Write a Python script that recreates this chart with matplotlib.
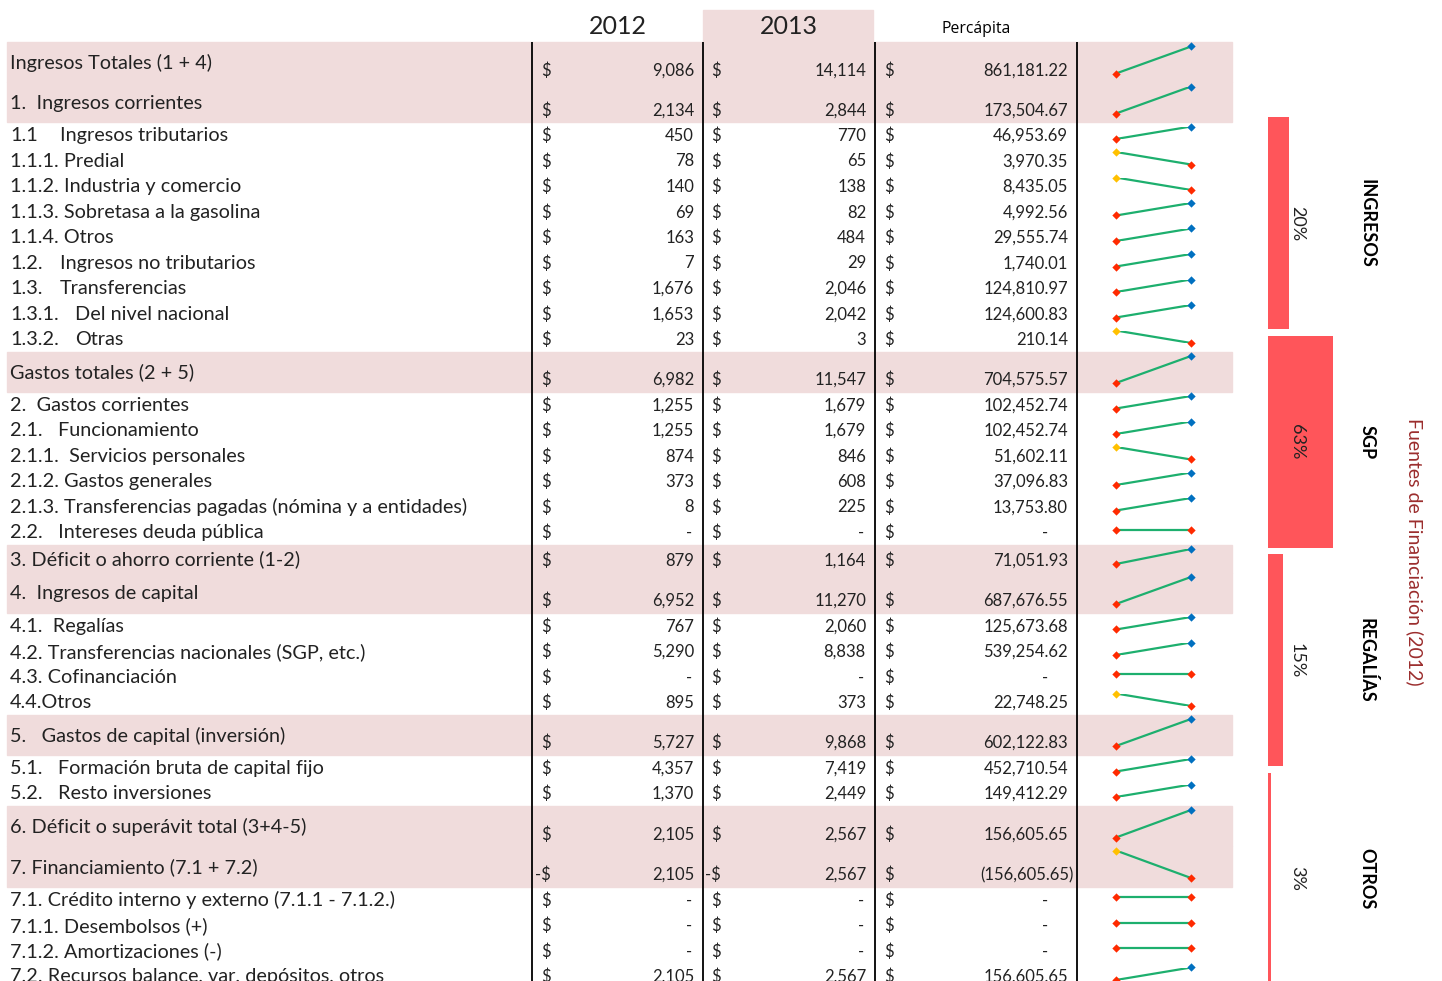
import matplotlib
matplotlib.use("Agg")
import matplotlib.pyplot as plt
from matplotlib.patches import Rectangle

plt.rcParams['font.family'] = ['Lato', 'DejaVu Sans']

W, H = 1442, 981

# table rows ("\t" marks a wide gap after the item number)
labels = [
    "Ingresos Totales (1 + 4)",
    "1.  Ingresos corrientes",
    "1.1\tIngresos tributarios",
    "1.1.1. Predial",
    "1.1.2. Industria y comercio",
    "1.1.3. Sobretasa a la gasolina",
    "1.1.4. Otros",
    "1.2.\tIngresos no tributarios",
    "1.3.\tTransferencias",
    "1.3.1.\tDel nivel nacional",
    "1.3.2.\tOtras",
    "Gastos totales (2 + 5)",
    "2.  Gastos corrientes",
    "2.1.   Funcionamiento",
    "2.1.1.  Servicios personales",
    "2.1.2. Gastos generales",
    "2.1.3. Transferencias pagadas (nómina y a entidades)",
    "2.2.   Intereses deuda pública",
    "3. Déficit o ahorro corriente (1-2)",
    "4.  Ingresos de capital",
    "4.1.  Regalías",
    "4.2. Transferencias nacionales (SGP, etc.)",
    "4.3. Cofinanciación",
    "4.4.Otros",
    "5.   Gastos de capital (inversión)",
    "5.1.   Formación bruta de capital fijo",
    "5.2.   Resto inversiones",
    "6. Déficit o superávit total (3+4-5)",
    "7. Financiamiento (7.1 + 7.2)",
    "7.1. Crédito interno y externo (7.1.1 - 7.1.2.)",
    "7.1.1. Desembolsos (+)",
    "7.1.2. Amortizaciones (-)",
    "7.2. Recursos balance, var. depósitos, otros",
]
v2012 = [9086, 2134, 450, 78, 140, 69, 163, 7, 1676, 1653, 23,
         6982, 1255, 1255, 874, 373, 8, 0, 879, 6952, 767, 5290, 0, 895,
         5727, 4357, 1370, 2105, -2105, 0, 0, 0, 2105]
v2013 = [14114, 2844, 770, 65, 138, 82, 484, 29, 2046, 2042, 3,
         11547, 1679, 1679, 846, 608, 225, 0, 1164, 11270, 2060, 8838, 0, 373,
         9868, 7419, 2449, 2567, -2567, 0, 0, 0, 2567]
percapita = [861181.22, 173504.67, 46953.69, 3970.35, 8435.05, 4992.56, 29555.74,
             1740.01, 124810.97, 124600.83, 210.14,
             704575.57, 102452.74, 102452.74, 51602.11, 37096.83, 13753.80, 0,
             71051.93, 687676.55, 125673.68, 539254.62, 0, 22748.25,
             602122.83, 452710.54, 149412.29, 156605.65, -156605.65, 0, 0, 0, 156605.65]

# funding sources share (2012)
fuentes = ["INGRESOS", "SGP", "REGALÍAS", "OTROS"]
fuentes_pct = [20, 63, 15, 3]

# layout
shaded = {0, 1, 11, 18, 19, 24, 27, 28}
row_h = [40, 40] + [25.5] * 9 + [40] + [25.5] * 6 + [28, 40] + [25.5] * 4 + [40] + [25.5] * 2 \
        + [40.5, 40.5] + [25.5] * 4
BAND = '#F0DCDC'
TOP = 42
COL_LINES = [532, 703, 875, 1077]
FS_LAB = 14.3
FS = 12

fig = plt.figure(figsize=(W / 100, H / 100), dpi=100)
ax = fig.add_axes([0, 0, 1, 1])
ax.set_xlim(0, W)
ax.set_ylim(H, 0)
ax.axis('off')

# headers
ax.add_patch(Rectangle((703, 10), 170, TOP - 10, color=BAND, zorder=0))
ax.text(618, 27, "2012", fontsize=18, ha='center', va='center', color='#222222')
ax.text(789, 27, "2013", fontsize=18, ha='center', va='center', color='#222222')
ax.text(976, 29, "Percápita", fontsize=11.3, ha='center', va='center', family=['Open Sans', 'DejaVu Sans'])


def fmt_int(v):
    return "-" if v == 0 else f"{abs(v):,.0f}"


lab_kw = dict(fontsize=FS_LAB, va='center', color='#222222')
num_kw = dict(fontsize=FS, va='center', ha='right', color='#222222')

y = TOP
for i, lab in enumerate(labels):
    h = row_h[i]
    if i in shaded:
        ax.add_patch(Rectangle((7, y), 1225, h, color=BAND, zorder=0))
    yc = y + h / 2 + 1
    yn = max(yc, y + h - 11.5)

    # label
    if "\t" in lab:
        pre, rest = lab.split("\t")
        ax.text(10, yc, pre, **lab_kw)
        ax.text(60 if len(pre) <= 4 else 75, yc, rest, **lab_kw)
    else:
        ax.text(10, yc, lab, **lab_kw)

    # 2012 / 2013 columns
    for v, xs, xr in ((v2012[i], 551, 694), (v2013[i], 721, 866)):
        ax.text(xs, yn, "-$" if v < 0 else "$", **num_kw)
        ax.text(xr - 2 if v == 0 else xr, yn, fmt_int(v), **num_kw)

    # per capita
    p = percapita[i]
    ax.text(894, yn, "$", **num_kw)
    if p == 0:
        ax.text(1048, yn, "-", **num_kw)
    elif p < 0:
        ax.text(1074, yn, f"({abs(p):,.2f})", **num_kw)
    else:
        ax.text(1068, yn, f"{p:,.2f}", **num_kw)

    # sparkline
    sp = fig.add_axes([1116 / W, 1 - (y + h - 8.5) / H, 75 / W, (h - 13) / H])
    a, b = v2012[i], v2013[i]
    sp.plot([0, 1], [a, b], color='#1DAF6E', lw=1.6, zorder=1)
    if b > a:
        c0, c1 = '#FF2A00', '#0070C0'
    elif b < a:
        c0, c1 = '#FFC000', '#FF2A00'
    else:
        c0, c1 = '#FF2A00', '#FF2A00'
    sp.scatter([0], [a], s=18, marker='D', color=c0, clip_on=False, zorder=2, linewidths=0)
    sp.scatter([1], [b], s=18, marker='D', color=c1, clip_on=False, zorder=2, linewidths=0)
    sp.set_xlim(0, 1)
    if a == b:
        sp.set_ylim(a - 1, a + 1)
    else:
        sp.set_ylim(min(a, b), max(a, b))
    sp.axis('off')

    y += h

ax.vlines(COL_LINES, TOP, H, color='black', lw=1.3, zorder=3)

# funding sources bars (rotated column chart)
bx = fig.add_axes([1268 / W, 1 - 988 / H, 103 / W, 874 / H])
bx.barh(range(len(fuentes)), fuentes_pct, height=0.97, color='#FF555A')
bx.set_xlim(0, 100)
bx.set_ylim(len(fuentes) - 0.5, -0.5)
bx.axis('off')
for k, (name, pct) in enumerate(zip(fuentes, fuentes_pct)):
    bx.text(28, k, f"{pct}%", fontsize=13, rotation=-90, ha='center', va='center', color='#222222')
    bx.text(96, k, name, fontsize=13, fontweight='bold', rotation=-90, ha='center', va='center')

ax.text(1415, 552, "Fuentes de Financiación (2012)", fontsize=14, color='#9B2D2D',
        rotation=-90, ha='center', va='center')

fig.savefig("out.png", dpi=100)
